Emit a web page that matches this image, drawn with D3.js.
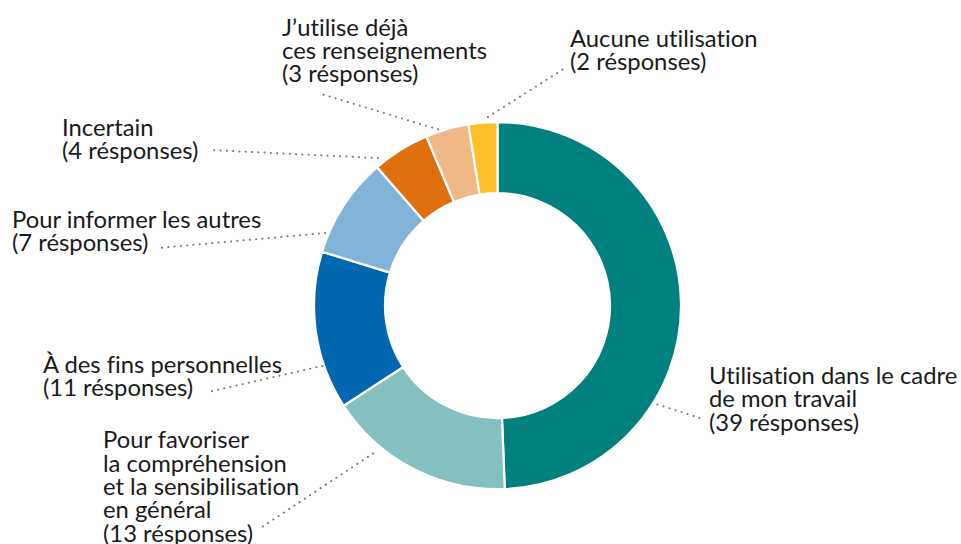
<!DOCTYPE html>
<html><head><meta charset="utf-8">
<script src="https://cdn.jsdelivr.net/npm/d3@7"></script>
<style>html,body{margin:0;padding:0;background:#fff;}svg{display:block;}text{font-variant-ligatures:no-common-ligatures;}</style>
</head><body>
<svg id="chart" width="961" height="544"></svg>
<script>
// ---- data ----
const categories = [
  "Utilisation dans le cadre de mon travail",
  "Pour favoriser la compréhension et la sensibilisation en général",
  "À des fins personnelles",
  "Pour informer les autres",
  "Incertain",
  "J’utilise déjà ces renseignements",
  "Aucune utilisation"
];
const responses = [39, 13, 11, 7, 4, 3, 2];
const labelLines = [
  ["Utilisation dans le cadre", "de mon travail"],
  ["Pour favoriser", "la compréhension", "et la sensibilisation", "en général"],
  ["À des fins personnelles"],
  ["Pour informer les autres"],
  ["Incertain"],
  ["J’utilise déjà", "ces renseignements"],
  ["Aucune utilisation"]
];
const colors = ["#00807e", "#84c0bf", "#0167b0", "#82b3d9", "#e0700f", "#efb886", "#fdc02b"];

// ---- layout (positions only) ----
const cx = 497.5, cy = 305.7, outerR = 183.5, innerR = 112.5;
// label text anchor (x, first baseline), leader start (angle deg, radius), leader end (x,y)
const labelLayout = [
  {x: 709, y: 384,   a: 121.7, r: 188, ex: 703, ey: 419},
  {x: 103, y: 448.3, a: 220.1, r: 193, ex: 262, ey: 527},
  {x: 43,  y: 373,   a: 251.0, r: 185, ex: 208, ey: 392},
  {x: 12,  y: 227.7, a: 292.9, r: 187, ex: 158, ey: 248},
  {x: 62,  y: 135.5, a: 321.0, r: 190, ex: 210, ey: 150},
  {x: 282, y: 35.5,  a: 341.4, r: 186, ex: 318, ey: 93},
  {x: 570, y: 46.7,  a: 357.1, r: 189, ex: 565, ey: 68}
];
const lineH = 23.3;

const svg = d3.select("#chart");
const data = categories.map((c, i) => ({cat: c, value: responses[i], i}));
const pie = d3.pie().value(d => d.value).sort(null);
const arc = d3.arc().innerRadius(innerR).outerRadius(outerR);
const color = d3.scaleOrdinal().domain(categories).range(colors);

const g = svg.append("g").attr("transform", `translate(${cx},${cy})`);
g.selectAll("path.slice").data(pie(data)).join("path")
  .attr("class", "slice")
  .attr("d", arc)
  .attr("fill", d => color(d.data.cat))
  .attr("stroke", "#fff").attr("stroke-width", 2.2);

// leader lines
const toRad = Math.PI / 180;
svg.append("g").selectAll("line").data(data).join("line")
  .attr("x1", d => cx + labelLayout[d.i].r * Math.sin(labelLayout[d.i].a * toRad))
  .attr("y1", d => cy - labelLayout[d.i].r * Math.cos(labelLayout[d.i].a * toRad))
  .attr("x2", d => labelLayout[d.i].ex)
  .attr("y2", d => labelLayout[d.i].ey)
  .attr("stroke", "#777").attr("stroke-width", 2)
  .attr("stroke-linecap", "round")
  .attr("stroke-dasharray", "0.1 6.2");

// labels
const lg = svg.append("g")
  .attr("font-family", "Lato, 'Open Sans', sans-serif")
  .attr("font-size", 23.8).attr("fill", "#1a1a1a");
data.forEach(d => {
  const L = labelLayout[d.i];
  const lines = labelLines[d.i].concat([`(${d.value} résponses)`]);
  const t = lg.append("text").attr("x", L.x).attr("y", L.y);
  lines.forEach((s, k) => {
    t.append("tspan").attr("x", L.x).attr("y", L.y + k * lineH).text(s);
  });
});
</script>
</body></html>
